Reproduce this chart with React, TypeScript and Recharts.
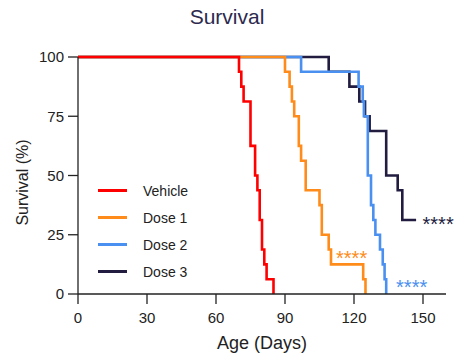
import { LineChart, Line, XAxis, YAxis, ReferenceDot } from "recharts";

// Kaplan-Meier steps (day, % surviving)
const vehicleDays = [0, 70, 71, 72, 75, 77, 78, 79, 80, 81, 82, 85];
const vehicleSurvival = [100, 93.75, 87.5, 81.25, 62.5, 50, 43.75, 31.25, 18.75, 12.5, 6.25, 0];

const dose1Days = [0, 90, 92, 93, 94, 96, 97, 99, 105, 106, 109, 110, 124, 125];
const dose1Survival = [100, 93.75, 87.5, 81.25, 75, 62.5, 56.25, 43.75, 37.5, 25, 18.75, 12.5, 6.25, 0];

const dose2Days = [0, 97, 122, 123.8, 124.3, 126, 127.4, 128.4, 129.3, 131.3, 132.5, 133.3, 134];
const dose2Survival = [100, 93.75, 87.5, 81.25, 75, 50, 37.5, 31.25, 25, 18.75, 12.5, 6.25, 0];

const dose3Days = [0, 109, 118, 122.3, 124.8, 126.8, 134, 139, 141, 147];
const dose3Survival = [100, 93.75, 87.5, 81.25, 75, 68.75, 50, 43.75, 31.25, 31.25];

const xTicks = [0, 30, 60, 90, 120, 150];
const yTicks = [0, 25, 50, 75, 100];

const colors = {
  vehicle: "#ff0000",
  dose1: "#ff8c1a",
  dose2: "#4a90f0",
  dose3: "#211c40",
};

// significance marks: where each "****" starts
const sigDays = [112.2, 138.3, 149.8];
const sigValues = [16.9, 4.8, 31.3];
const sigColors = [colors.dose1, colors.dose2, colors.dose3];

const toPoints = (days: number[], surv: number[]) =>
  days.map((d, i) => ({ day: d, survival: surv[i] }));

// drawn bottom to top
const series = [
  { name: "Dose 3", color: colors.dose3, points: toPoints(dose3Days, dose3Survival) },
  { name: "Dose 2", color: colors.dose2, points: toPoints(dose2Days, dose2Survival) },
  { name: "Dose 1", color: colors.dose1, points: toPoints(dose1Days, dose1Survival) },
  { name: "Vehicle", color: colors.vehicle, points: toPoints(vehicleDays, vehicleSurvival) },
];

const legendItems = [
  { name: "Vehicle", color: colors.vehicle },
  { name: "Dose 1", color: colors.dose1 },
  { name: "Dose 2", color: colors.dose2 },
  { name: "Dose 3", color: colors.dose3 },
];

const font = "'Liberation Sans', Arial, sans-serif";
const ink = "#222222";

export default function App() {
  return (
    <div style={{ position: "absolute", left: 0, top: 0, width: 454, height: 355, background: "#fff", fontFamily: font }}>
      <div
        style={{
          position: "absolute",
          top: 4,
          left: 0,
          width: 454,
          textAlign: "center",
          fontSize: 21,
          color: "#2c2a4f",
          lineHeight: "26px",
        }}
      >
        Survival
      </div>

      <LineChart
        width={454}
        height={355}
        margin={{ top: 57, right: 8, bottom: 0, left: 0 }}
        style={{ fontFamily: font }}
      >
        <XAxis
          dataKey="day"
          type="number"
          domain={[0, 160]}
          ticks={xTicks}
          allowDuplicatedCategory={false}
          height={61}
          tickSize={10}
          tickMargin={8}
          tick={{ fontSize: 15, fill: ink }}
          axisLine={{ stroke: ink, strokeWidth: 1.3 }}
          tickLine={{ stroke: ink, strokeWidth: 1.3 }}
          label={{ value: "Age (Days)", position: "insideBottom", offset: 6, fontSize: 18, fill: ink }}
        />
        <YAxis
          type="number"
          domain={[0, 100]}
          ticks={yTicks}
          width={78}
          tickSize={10}
          tickMargin={4}
          tick={{ fontSize: 15, fill: ink }}
          axisLine={{ stroke: ink, strokeWidth: 1.3 }}
          tickLine={{ stroke: ink, strokeWidth: 1.3 }}
          label={{ value: "Survival (%)", angle: -90, position: "center", dx: -17, dy: 7, fontSize: 16, fill: ink }}
        />
        {series.map((s) => (
          <Line
            key={s.name}
            data={s.points}
            dataKey="survival"
            type="stepAfter"
            stroke={s.color}
            strokeWidth={2.6}
            dot={false}
            activeDot={false}
            isAnimationActive={false}
          />
        ))}
        {sigDays.map((d, i) => (
          <ReferenceDot
            key={i}
            x={d}
            y={sigValues[i]}
            r={0}
            ifOverflow="visible"
            label={{
              content: (props: any) => {
                const vb = props.viewBox || {};
                return (
                  <text x={vb.x} y={vb.y + 11} fill={sigColors[i]} fontSize={20} fontFamily={font}>
                    ****
                  </text>
                );
              },
            }}
          />
        ))}
      </LineChart>

      <div style={{ position: "absolute", left: 98, top: 177 }}>
        {legendItems.map((it) => (
          <div key={it.name} style={{ display: "flex", alignItems: "center", height: 27 }}>
            <div style={{ width: 29, height: 3, background: it.color, marginRight: 16 }} />
            <span style={{ fontSize: 14, color: ink }}>{it.name}</span>
          </div>
        ))}
      </div>
    </div>
  );
}
